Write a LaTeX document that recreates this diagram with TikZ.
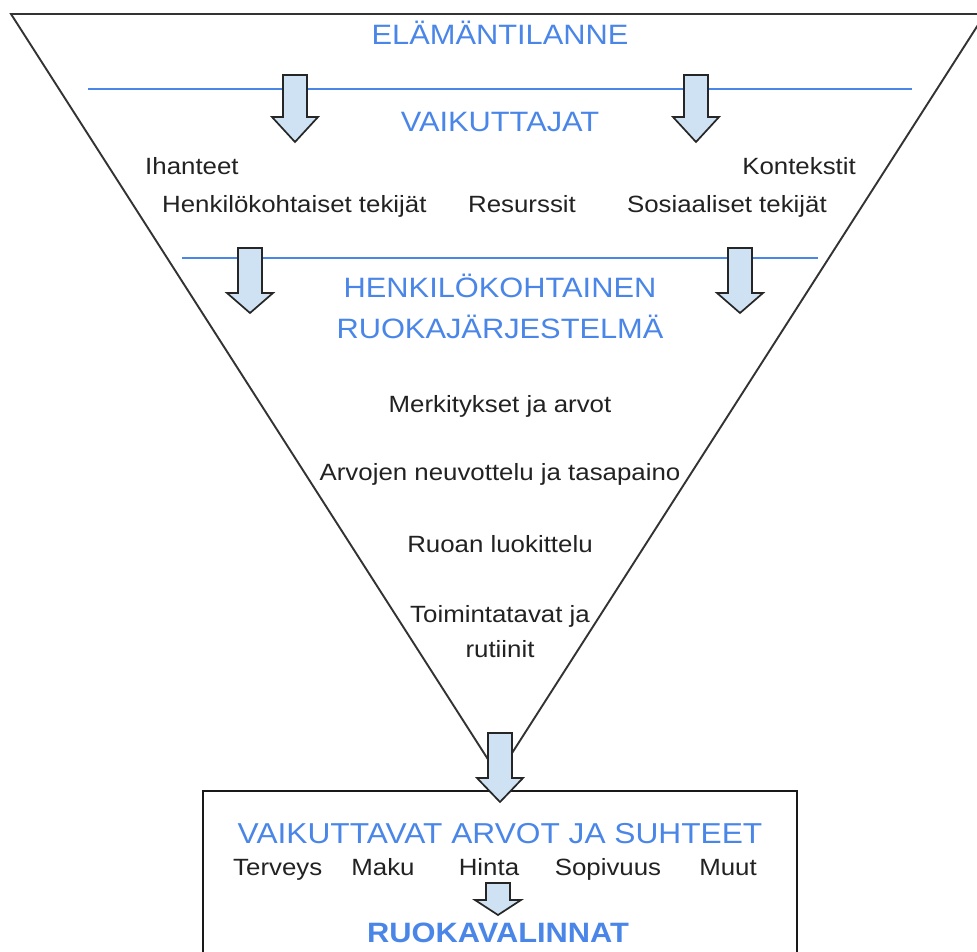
\documentclass[tikz,border=0pt]{standalone}
\usepackage{fontspec}
\setmainfont{Liberation Sans}[FakeStretch=1.1]
\definecolor{hblue}{HTML}{4A86E8}
\definecolor{afill}{HTML}{CFE2F3}
\definecolor{tgray}{HTML}{222222}
\newcommand{\downblock}[4]{% cx, top, headstart, tip
  \draw[barrow] (#1-12,#2) -- (#1+12,#2) -- (#1+12,#3) -- (#1+23,#3) -- (#1,#4) -- (#1-23,#3) -- (#1-12,#3) -- cycle;}
\begin{document}
\begin{tikzpicture}[x=1pt,y=-1pt,
  hdr/.style={text=hblue,font=\fontsize{28}{30}\selectfont,anchor=base,inner sep=0pt},
  lbl/.style={text=tgray,font=\fontsize{23.5}{26}\selectfont,anchor=base,inner sep=0pt},
  edgeline/.style={draw=black!80,line width=1.9pt,line join=miter},
  sepline/.style={draw=hblue,line width=1.5pt},
  barrow/.style={draw=black!85,fill=afill,line width=1.7pt,line join=miter}]
\useasboundingbox (0,0) rectangle (977,952);
\clip (0,0) rectangle (977,952);
\fill[white] (0,0) rectangle (977,952);
% funnel
\coordinate (tl) at (11,14);
\coordinate (tr) at (985,14);
\coordinate (apex) at (498,775);
\draw[edgeline] (tl) -- (tr) -- (apex) -- cycle;
% separator lines
\coordinate (s1a) at (88,89);
\coordinate (s1b) at (912,89);
\coordinate (s2a) at (182,258);
\coordinate (s2b) at (818,258);
\draw[sepline] (s1a) -- (s1b);
\draw[sepline] (s2a) -- (s2b);
% bottom box
\draw[edgeline,draw=black!90] (203,791) rectangle (797,970);
% headings
\node[hdr] (elama) at (500,45) {ELÄMÄNTILANNE};
\node[hdr] (vaik) at (500,132) {VAIKUTTAJAT};
\node[hdr] (hkr1) at (500,297) {HENKILÖKOHTAINEN};
\node[hdr] (hkr2) at (500,338) {RUOKAJÄRJESTELMÄ};
\node[hdr,font=\fontsize{28.8}{30}\selectfont] (varvot) at (500,843) {VAIKUTTAVAT ARVOT JA SUHTEET};
\node[hdr,font=\fontsize{28}{30}\selectfont\bfseries] (valinnat) at (498,942) {RUOKAVALINNAT};
% labels
\node[lbl,anchor=base west] (ihanteet) at (145,175) {Ihanteet};
\node[lbl,anchor=base east] (kontekstit) at (856,175) {Kontekstit};
\node[lbl,anchor=base west] (henk) at (162,213) {Henkilökohtaiset tekijät};
\node[lbl] (resurssit) at (522,213) {Resurssit};
\node[lbl,anchor=base east] (sos) at (827,213) {Sosiaaliset tekijät};
\node[lbl] (merk) at (500,412) {Merkitykset ja arvot};
\node[lbl] (neuv) at (500,480) {Arvojen neuvottelu ja tasapaino};
\node[lbl] (luok) at (500,552) {Ruoan luokittelu};
\node[lbl] (toim) at (500,622) {Toimintatavat ja};
\node[lbl] (rut) at (500,657) {rutiinit};
\node[lbl,anchor=base west] (terveys) at (233,875) {Terveys};
\node[lbl] (maku) at (383,875) {Maku};
\node[lbl] (hinta) at (489,875) {Hinta};
\node[lbl] (sopivuus) at (608,875) {Sopivuus};
\node[lbl,anchor=base east] (muut) at (757,875) {Muut};
% block arrows
\downblock{295}{75}{117}{142}
\downblock{696}{75}{117}{142}
\downblock{250}{248}{293}{313}
\downblock{740}{248}{293}{313}
\downblock{500}{733}{778}{802}
\downblock{498}{883}{900}{915}
\end{tikzpicture}
\end{document}
